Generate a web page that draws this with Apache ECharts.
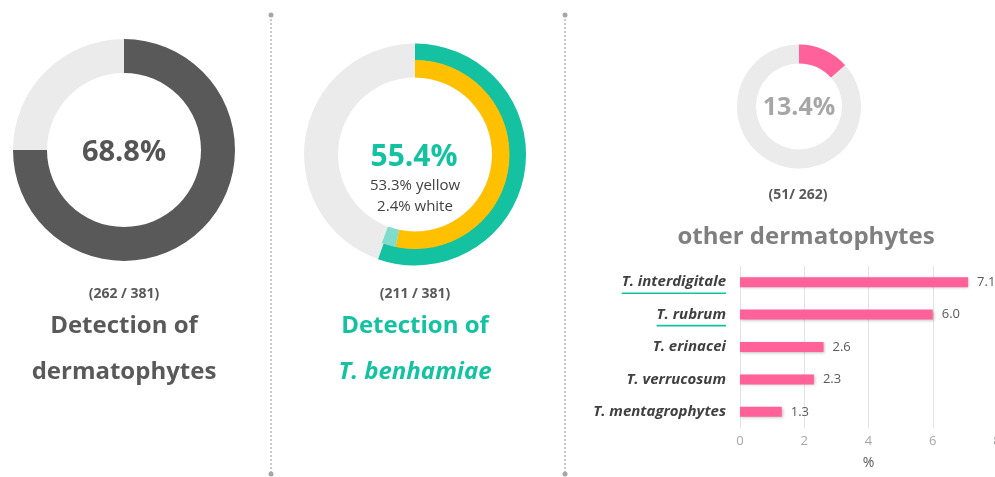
<!DOCTYPE html>
<html><head><meta charset="utf-8">
<script src="https://cdn.jsdelivr.net/npm/echarts@6/dist/echarts.min.js"></script>
<style>html,body{margin:0;padding:0;background:#fff}#c{width:995px;height:477px}</style>
</head><body><div id="c"></div>
<script>
// ---- data ----
const ring1Names = ['dermatophytes', 'rest'];
const ring1Values = [75, 25];
const ring2OuterNames = ['T. benhamiae', 'rest'];
const ring2OuterValues = [55.4, 44.6];
const ring2InnerNames = ['yellow', 'white', 'rest'];
const ring2InnerValues = [53.3, 2.4, 44.3];
const ring3Names = ['other', 'rest'];
const ring3Values = [13.4, 86.6];
const species = ['T. interdigitale', 'T. rubrum', 'T. erinacei', 'T. verrucosum', 'T. mentagrophytes'];
const speciesPct = [7.1, 6.0, 2.6, 2.3, 1.3];
const underlined = ['T. interdigitale', 'T. rubrum'];
const xTicks = [0, 2, 4, 6, 8];

const FONT = '"Open Sans", sans-serif';
const GRAY_RING = '#ebebeb';
const TEAL = '#14c2a2';
const chart = echarts.init(document.getElementById('c'));

function pie(center, radius, names, values, colors, z) {
  return {
    type: 'pie', center: center, radius: radius, startAngle: 90, clockwise: true, z: z || 2,
    silent: true, label: {show: false}, labelLine: {show: false}, animation: false,
    data: names.map((n, i) => ({name: n, value: values[i], itemStyle: {color: colors[i]}}))
  };
}
function txt(x, y, text, size, color, weight, style) {
  return {type: 'text', x: x, y: y, silent: true, style: {text: text, fontSize: size, fill: color,
    fontWeight: weight || 'bold', fontStyle: style || 'normal', fontFamily: FONT, align: 'center', verticalAlign: 'middle'}};
}
function divider(x) {
  return [
    {type: 'line', silent: true, shape: {x1: x, y1: 15, x2: x, y2: 474}, style: {stroke: '#a6a6a6', lineWidth: 1.2, lineDash: [2, 2]}},
    {type: 'circle', silent: true, shape: {cx: x, cy: 15, r: 2.5}, style: {fill: '#a6a6a6'}},
    {type: 'circle', silent: true, shape: {cx: x, cy: 474, r: 2.5}, style: {fill: '#a6a6a6'}}
  ];
}

const graphics = [].concat(
  divider(271), divider(565),
  [
    txt(124, 153, '68.8%', 29, '#555555'),
    txt(124, 294, '(262 / 381)', 14, '#595959'),
    txt(124, 326, 'Detection of', 24, '#595959'),
    txt(124, 372, 'dermatophytes', 24, '#595959'),
    txt(414, 157, '55.4%', 30, TEAL),
    txt(415, 186, '53.3% yellow', 15, '#404040', 'normal'),
    txt(415, 207, '2.4% white', 15, '#404040', 'normal'),
    txt(415, 294, '(211 / 381)', 14, '#595959'),
    txt(415, 326, 'Detection of', 24, TEAL),
    txt(415, 372, 'T. benhamiae', 24, TEAL, 'bold', 'italic'),
    txt(799, 108, '13.4%', 25, '#a6a6a6'),
    txt(798, 195, '(51/ 262)', 14, '#595959'),
    txt(806, 237, 'other dermatophytes', 24, '#7f7f7f')
  ]
);

const option = {
  animation: false,
  textStyle: {fontFamily: FONT},
  grid: {left: 740, width: 257, top: 266, bottom: 49, containLabel: false, outerBoundsMode: 'none'},
  xAxis: {
    type: 'value', min: 0, max: 8, interval: 2,
    name: '%', nameLocation: 'middle', nameGap: 28,
    nameTextStyle: {color: '#595959', fontSize: 14, fontFamily: FONT},
    axisLine: {show: false}, axisTick: {show: false},
    axisLabel: {color: '#a6a6a6', fontSize: 13, margin: 7, fontFamily: FONT,
      formatter: v => xTicks.indexOf(v) >= 0 ? String(v) : ''},
    splitLine: {lineStyle: {color: '#e3e3e3'}}
  },
  yAxis: {
    type: 'category', data: species, inverse: true,
    axisLine: {show: false}, axisTick: {show: false},
    axisLabel: {color: '#404040', fontSize: 15, fontWeight: 'bold', fontStyle: 'italic', margin: 14, fontFamily: FONT}
  },
  series: [
    pie([124, 150], [77, 111], ring1Names, ring1Values, ['#595959', GRAY_RING]),
    pie([415, 154.5], [77, 111], ['bg'], [1], [GRAY_RING], 1),
    pie([415, 154.5], [94, 111], ring2OuterNames, ring2OuterValues, [TEAL, 'rgba(0,0,0,0)']),
    pie([415, 154.5], [77, 94.5], ring2InnerNames, ring2InnerValues, ['#ffc000', '#80ddcd', 'rgba(0,0,0,0)'], 3),
    pie([799, 106.5], [43, 62], ring3Names, ring3Values, ['#ff6198', GRAY_RING]),
    {
      type: 'bar', data: speciesPct, barWidth: 10, silent: true,
      itemStyle: {color: '#ff6198', shadowColor: 'rgba(0,0,0,0.25)', shadowBlur: 3, shadowOffsetX: 1, shadowOffsetY: 1},
      label: {show: true, position: 'right', distance: 9, color: '#595959', fontSize: 13, fontFamily: FONT,
        formatter: p => p.value.toFixed(1)}
    }
  ],
  graphic: graphics
};
chart.setOption(option);

// teal underline under selected species labels, placed from the axis scale
const cv = document.createElement('canvas').getContext('2d');
cv.font = 'italic bold 15px ' + FONT;
const extra = underlined.map(name => {
  const y = chart.convertToPixel({yAxisIndex: 0}, name);
  const xr = chart.convertToPixel({xAxisIndex: 0}, 0) - 14;
  const w = cv.measureText(name).width;
  return {type: 'line', silent: true, shape: {x1: xr - w, y1: y + 11, x2: xr, y2: y + 11},
    style: {stroke: TEAL, lineWidth: 1.6}};
});
chart.setOption({graphic: graphics.concat(extra)});
</script></body></html>
